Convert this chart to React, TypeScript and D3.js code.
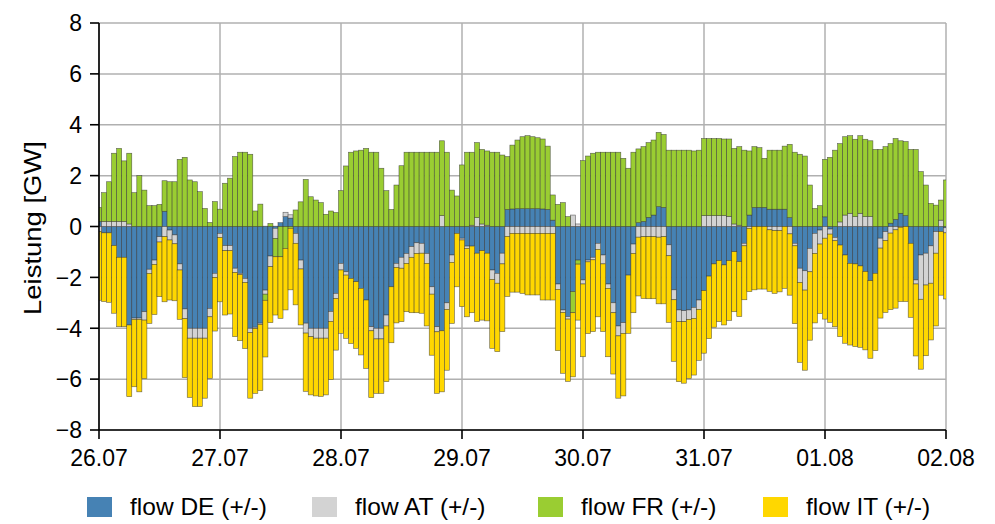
import React from 'react';
import * as d3 from 'd3';

const dayLabels = ['26.07', '27.07', '28.07', '29.07', '30.07', '31.07', '01.08', '02.08'];
const yTicks = [-8, -6, -4, -2, 0, 2, 4, 6, 8];

const flowDE = [
  0.2, -0.25, -0.25, -0.75, -1.21, -1.21, -3.87, -3.6, -3.6, -3.35,
  -1.68, -1.32, -0.4, 0.6, -0.14, -0.33, -1.47, -3.24, -4.0, -4.0,
  -4.0, -4.0, -3.22, -1.84, -0.27, -0.75, -0.75, -1.64, -1.84, -2.04,
  -4.0, -3.96, -3.8, -2.5, -1.16, -0.07, 0.15, 0.39, 0.33, -0.27,
  -1.32, -3.8, -4.0, -4.0, -4.0, -4.0, -3.34, -2.63, -1.45, -1.78,
  -2.04, -2.17, -2.43, -2.89, -3.94, -4.0, -4.0, -3.48, -2.37, -1.45,
  -1.21, -1.06, -0.79, -0.64, -0.66, -1.06, -2.37, -3.94, -4.1, -3.0,
  -1.12, -0.27, -0.46, -0.77, -0.77, -1.05, -0.95, -1.05, -1.71, -1.84,
  -1.05, 0.67, 0.69, 0.7, 0.7, 0.7, 0.7, 0.7, 0.69, 0.67,
  0.25, -2.26, -3.28, -3.54, -2.56, -1.32, -2.1, -1.32, -1.21, -0.66,
  -1.12, -2.26, -3.0, -3.91, -3.78, -1.91, -0.69, 0.15, 0.2, 0.36,
  0.45, 0.78, 0.75, -0.72, -2.49, -3.28, -3.31, -3.28, -3.18, -2.89,
  -2.52, -1.95, -1.47, -1.34, -1.51, -1.34, -0.99, -1.38, -0.66, 0.45,
  0.75, 0.75, 0.75, 0.68, 0.68, 0.68, 0.68, 0.35, -0.66, -1.64,
  -1.74, -0.86, -0.27, -0.14, 0.38, -0.1, -0.43, -0.73, -1.12, -1.45,
  -1.47, -1.55, -1.77, -2.13, -1.84, -0.46, -0.2, 0.13, 0.28, 0.52,
  0.43, -0.66, -2.1, -1.12, -1.05, -0.76, -0.2, -0.2, -0.05,
];

const flowAT = [
  -0.2, 0.2, 0.2, 0.2, 0.2, 0.2, 0.1, -0.05, -0.05, -0.33,
  -0.16, -0.17, -0.21, -0.4, -0.39, -0.35, -0.24, -0.38, -0.39, -0.39,
  -0.39, -0.39, -0.33, -0.16, -0.16, -0.2, -0.2, -0.17, -0.05, -0.16,
  -0.17, -0.05, -0.05, -0.16, -0.42, -0.4, 0, 0.17, 0.13, -0.39,
  -0.35, -0.39, -0.33, -0.39, -0.39, -0.39, -0.39, -0.2, -0.26, -0.13,
  0, 0, 0, 0, -0.16, -0.42, -0.42, -0.43, 0, -0.16,
  -0.43, -0.39, -0.42, -0.42, -0.39, -0.39, -0.29, -0.2, 0.43, -0.26,
  -0.29, 0, -0.07, -0.09, 0.05, 0.35, 0.1, 0.05, -0.37, -0.39,
  -0.42, -0.39, -0.27, -0.27, -0.27, -0.27, -0.27, -0.27, -0.27, -0.27,
  -0.27, -0.21, -0.1, -0.1, 0.45, 0.1, -0.16, -0.07, -0.1, -0.24,
  -0.35, -0.17, -0.39, -0.39, -0.42, 0, -0.37, -0.42, -0.4, -0.4,
  -0.4, -0.42, -0.4, -0.43, -0.39, -0.46, -0.43, -0.37, -0.43, -0.37,
  0.43, 0.43, 0.43, 0.43, 0.43, 0.4, 0.1, 0.05, -0.1, -0.07,
  0, 0, 0, -0.13, -0.16, -0.16, 0, -0.29, -0.1, -0.56,
  -0.76, -0.92, -0.79, -0.55, -0.46, -0.2, -0.13, 0.18, 0.45, 0.52,
  0.39, 0.52, 0.39, 0.39, 0, -0.39, -0.35, -0.26, -0.13, -0.03,
  0, 0, -0.16, -1.74, -1.25, -1.47, -0.85, 0.25, -0.2,
];

const flowFR = [
  0.55, 1.13, 1.56, 2.68, 2.87, 2.38, 2.78, 1.33, 2.0, 1.43,
  0.82, 0.82, 0.87, 1.2, 1.76, 1.76, 2.64, 2.72, 1.83, 1.76,
  1.37, 0.71, 0.16, 0.98, 0.68, 1.7, 1.9, 2.75, 2.92, 2.92,
  2.84, 0.61, 0.88, -0.24, 0.12, -0.72, -1.19, -0.86, -0.07, 0.65,
  0.97, 1.85, 1.17, 1.04, 0.94, 0.48, 0.61, 0.55, 1.41, 2.38,
  2.92, 2.97, 3.0, 3.07, 2.92, 2.92, 2.29, 1.41, 0.67, 1.63,
  2.39, 2.92, 2.92, 2.92, 2.92, 2.92, 2.92, 2.92, 2.94, 2.92,
  1.43, 1.2, 2.42, 2.92, 2.87, 2.95, 2.93, 2.92, 2.92, 2.92,
  2.81, 2.08, 2.51, 2.7, 2.83, 2.87, 2.83, 2.79, 2.75, 2.49,
  0.99, 0.87, 0.94, 0.39, -0.83, -0.16, 2.59, 2.77, 2.88, 2.92,
  2.92, 2.92, 2.92, 2.92, 2.68, 2.29, 2.92, 2.9, 2.94, 2.94,
  2.95, 2.92, 2.87, 3.0, 3.0, 3.0, 3.0, 3.0, 2.97, 3.0,
  3.03, 3.03, 3.03, 3.03, 3.01, 3.04, 2.97, 3.09, 3.0, 2.52,
  2.39, 2.35, 1.93, 2.32, 2.32, 2.32, 2.48, 2.88, 2.92, 2.84,
  2.77, 1.63, 0.71, 0.82, 2.26, 2.72, 3.0, 3.08, 3.08, 3.05,
  3.04, 3.05, 3.04, 2.98, 3.03, 3.03, 3.14, 3.13, 3.18, 2.85,
  2.91, 3.03, 3.03, 2.16, 1.63, 0.91, 0.84, 0.79, 1.83,
];

const flowIT = [
  -2.7, -2.7, -2.73, -2.66, -2.73, -2.73, -2.82, -2.65, -2.85, -2.3,
  -1.97, -1.97, -2.15, -2.56, -2.36, -2.24, -1.94, -2.32, -2.33, -2.69,
  -2.69, -2.36, -2.42, -2.11, -2.53, -2.53, -2.49, -2.52, -2.6, -2.6,
  -2.58, -2.55, -2.6, -2.23, -2.2, -2.29, -2.42, -2.42, -2.42, -2.42,
  -2.2, -2.29, -2.29, -2.27, -2.29, -2.23, -2.29, -2.03, -2.49, -2.49,
  -2.56, -2.62, -2.62, -2.69, -2.63, -2.14, -2.14, -2.19, -2.2, -2.18,
  -2.1, -1.9, -2.18, -2.33, -2.36, -2.46, -2.4, -2.42, -2.4, -2.39,
  -2.4, -2.1, -2.62, -2.69, -2.62, -2.69, -2.73, -2.66, -2.71, -2.69,
  -2.66, -2.36, -2.31, -2.31, -2.36, -2.42, -2.42, -2.42, -2.62, -2.62,
  -2.62, -2.41, -2.39, -2.45, -2.52, -2.2, -2.86, -2.82, -2.82, -2.65,
  -2.66, -2.69, -2.41, -2.45, -2.46, -2.29, -2.33, -2.31, -2.43, -2.44,
  -2.44, -2.62, -2.64, -2.62, -2.42, -2.36, -2.42, -2.32, -2.23, -2.0,
  -2.46, -2.46, -2.49, -2.4, -2.36, -2.35, -2.36, -2.16, -2.12, -2.49,
  -2.49, -2.46, -2.46, -2.42, -2.47, -2.41, -2.43, -2.41, -3.06, -3.14,
  -3.15, -2.69, -2.73, -2.73, -3.18, -3.47, -3.38, -3.6, -3.47, -3.21,
  -3.25, -3.2, -3.08, -3.05, -3.04, -2.75, -2.83, -3.01, -3.08, -2.92,
  -2.95, -2.91, -2.83, -2.75, -2.78, -2.23, -2.86, -2.5, -2.6,
];

const seriesKeys = ['DE', 'AT', 'FR', 'IT'];
const seriesNames = ['flow DE (+/-)', 'flow AT (+/-)', 'flow FR (+/-)', 'flow IT (+/-)'];
const seriesColors = ['#4682B4', '#D3D3D3', '#9ACD32', '#FFD700'];

const FONT = '"Liberation Sans", Arial, Helvetica, sans-serif';

export default function App() {
  const W = 995;
  const H = 524;
  const left = 99;
  const right = 946;
  const top = 23;
  const bottom = 430;

  const nHours = flowDE.length - 1;
  const x = d3.scaleLinear().domain([0, nHours]).range([left, right]);
  const y = d3.scaleLinear().domain([-8, 8]).range([bottom, top]);

  const rows = flowDE.map((d, i) => ({
    i,
    DE: d,
    AT: flowAT[i],
    FR: flowFR[i],
    IT: flowIT[i],
  }));
  const stack = d3
    .stack<any>()
    .keys(seriesKeys)
    .offset(d3.stackOffsetDiverging);
  const layers = stack(rows);

  const legendX = [87, 312, 538, 763];

  return (
    <svg
      width={W}
      height={H}
      style={{ position: 'absolute', left: 0, top: 0, background: '#fff' }}
      fontFamily={FONT}
    >
      <defs>
        <clipPath id="plotClip">
          <rect x={left} y={top} width={right - left} height={bottom - top} />
        </clipPath>
      </defs>
      <rect x={0} y={0} width={W} height={H} fill="#fff" />
      {/* grid */}
      <g stroke="#b0b0b0" strokeWidth={1.5}>
        {yTicks.map((t) => (
          <line key={'gy' + t} x1={left} x2={right} y1={y(t)} y2={y(t)} />
        ))}
        {dayLabels.map((l, k) => (
          <line key={'gx' + l} x1={x(k * 24)} x2={x(k * 24)} y1={top} y2={bottom} />
        ))}
      </g>
      {/* bars */}
      <g clipPath="url(#plotClip)">
        {layers.map((layer, si) => (
          <g key={layer.key} fill={seriesColors[si]}>
            {layer.map((seg, i) => {
              const y0 = y(seg[0]);
              const y1 = y(seg[1]);
              const h = Math.abs(y0 - y1);
              if (h < 0.01) return null;
              return (
                <rect
                  key={i}
                  x={x(i - 0.5)}
                  width={x(1) - x(0)}
                  y={Math.min(y0, y1)}
                  height={h}
                  stroke="#333"
                  strokeOpacity={0.75}
                  strokeWidth={0.6}
                />
              );
            })}
          </g>
        ))}
      </g>
      {/* spines */}
      <line x1={left} x2={left} y1={top} y2={bottom} stroke="#000" strokeWidth={1.6} />
      <line x1={left} x2={right} y1={bottom} y2={bottom} stroke="#000" strokeWidth={1.6} />
      {/* y ticks */}
      {yTicks.map((t) => (
        <g key={'yt' + t}>
          <line x1={left - 9} x2={left} y1={y(t)} y2={y(t)} stroke="#000" strokeWidth={1.6} />
          <text x={82} y={y(t)} dy="0.36em" textAnchor="end" fontSize={23} fill="#000">
            {t < 0 ? '\u2212' + Math.abs(t) : String(t)}
          </text>
        </g>
      ))}
      {/* x ticks */}
      {dayLabels.map((l, k) => (
        <g key={'xt' + l}>
          <line x1={x(k * 24)} x2={x(k * 24)} y1={bottom} y2={bottom + 9} stroke="#000" strokeWidth={1.6} />
          <text x={x(k * 24)} y={466} textAnchor="middle" fontSize={23} fill="#000">
            {l}
          </text>
        </g>
      ))}
      {/* y label */}
      <text
        transform={`translate(41,228) rotate(-90)`}
        textAnchor="middle"
        fontSize={24}
        textLength={174}
        lengthAdjust="spacingAndGlyphs"
        fill="#000"
      >
        Leistung [GW]
      </text>
      {/* legend */}
      {seriesNames.map((name, si) => (
        <g key={name}>
          <rect x={legendX[si]} y={497} width={25} height={20} fill={seriesColors[si]} />
          <text x={legendX[si] + 43} y={515} fontSize={24.5} fill="#000">
            {name}
          </text>
        </g>
      ))}
    </svg>
  );
}
